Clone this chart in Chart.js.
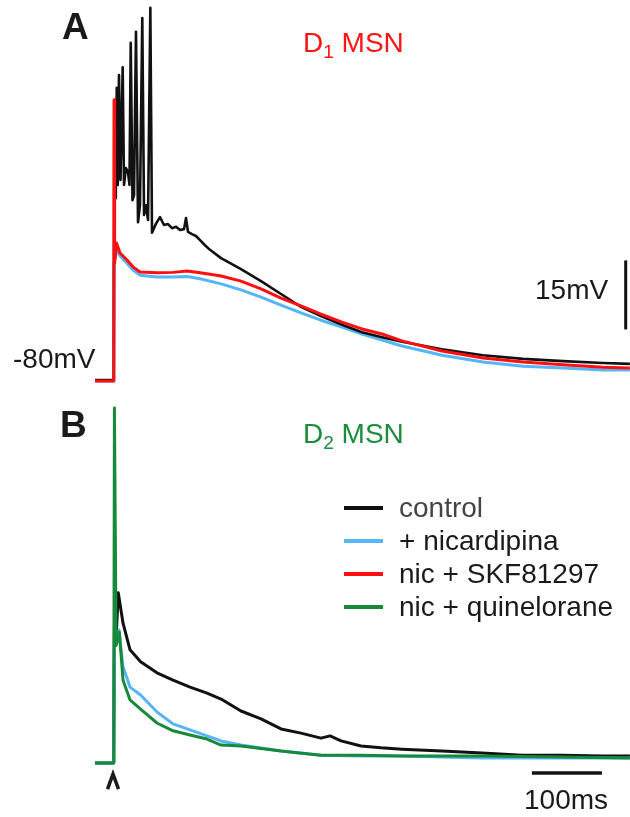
<!DOCTYPE html>
<html lang="en">
<head>
  <meta charset="UTF-8">
  <title>D1 / D2 MSN</title>
  <script src="https://cdn.jsdelivr.net/npm/chart.js"></script>
  <style>
    body {
      margin: 0;
      background: #fff;
      font-family: "Liberation Sans", Arial, sans-serif;
    }
    #wrap {
      position: relative;
      width: 630px;
      height: 817px;
    }
    canvas {
      position: absolute;
      left: 0;
    }
    .lbl {
      position: absolute;
      font-size: 28px;
      line-height: 28px;
      color: #1a1a1a;
      white-space: nowrap;
    }
    .panel {
      font-weight: bold;
      font-size: 37px;
      line-height: 37px;
    }
    .lbl sub {
      font-size: 19px;
      vertical-align: -6px;
      line-height: 0;
    }
    .leg-line {
      position: absolute;
      left: 344px;
      width: 39px;
      height: 4px;
    }
  </style>
</head>
<body>

<div id="wrap">
  <canvas id="panelA" width="630" height="390" style="top:0"></canvas>
  <canvas id="panelB" width="630" height="427" style="top:390px"></canvas>

  <div class="lbl panel" style="left:62px; top:8px;">A</div>
  <div class="lbl" style="left:303px; top:29px; color:#ff1414;">D<sub>1</sub> MSN</div>
  <div class="lbl" style="left:13px; top:345px;">-80mV</div>
  <div class="lbl" style="left:535px; top:276px;">15mV</div>

  <div class="lbl panel" style="left:60px; top:406px;">B</div>
  <div class="lbl" style="left:303px; top:420px; color:#1a8c3c;">D<sub>2</sub> MSN</div>
  <div class="lbl" style="left:524px; top:786px;">100ms</div>

  <div id="legend"></div>
</div>

<script>
  // time in ms (0 = stimulus), membrane potential in mV

  // panel A, D1 MSN
  const ctrlA = [[-27,-80],[-0.3,-80],[0.4,-19.5],[1.6,-40.5],[2.6,-38.7],[3.9,-16.5],[5.4,-37.6],[7.1,-13.7],
    [9.3,-36.5],[12.4,-12.0],[14.3,-37.6],[17.1,-33.9],[20,-34.8],[22.1,-37.6],[23.9,-6.7],[26.4,-40.9],
    [28.6,-39.8],[31.4,-4.3],[34.3,-45.7],[37.1,-42.0],[40.4,-1.3],[42.9,-44.1],[45.7,-42.0],[48.6,-45.2],
    [51.9,0.9],[54.3,-48.0],[60,-46.0],[65.7,-44.6],[71.4,-46.3],[77.1,-46.1],[82.9,-47.0],[88.6,-46.7],
    [94.3,-47.4],[100,-47.2],[102.9,-44.8],[105.7,-47.8],[111.4,-48.3],[117.1,-48.7],[122.9,-49.6],
    [130,-50.7],[137.1,-51.7],[152.9,-53.5],[181.4,-55.9],[210,-58.5],[238.6,-61.3],[267.1,-64.1],
    [295.7,-66.1],[325.7,-68.0],[354.3,-69.6],[382.9,-70.7],[411.4,-71.7],[468.6,-73.3],[527.1,-74.6],
    [584.3,-75.4],[641.4,-75.9],[698.6,-76.3],[737,-76.5]];

  const nicA = [[-27,-80.2],[-0.3,-80.2],[0.0,-54.6],[0.9,-54.6],[4.3,-51.7],[8.6,-53.0],[18.6,-54.6],
    [27.1,-56.1],[37.1,-57.2],[61.4,-57.6],[84.3,-57.6],[104.3,-57.5],[122.9,-58.0],[152.9,-59.1],
    [181.4,-60.4],[210,-62.0],[238.6,-63.7],[267.1,-65.4],[295.7,-67.0],[325.7,-68.5],[354.3,-70.0],
    [382.9,-71.3],[411.4,-72.6],[468.6,-74.6],[527.1,-76.1],[584.3,-77.0],[641.4,-77.4],[698.6,-77.8],[737,-77.8]];

  const skfA = [[-27,-80.2],[-0.3,-80.2],[0.1,-19.1],[0.9,-54.6],[3.6,-50.2],[8.6,-52.4],[18.6,-53.9],
    [27.1,-55.4],[37.1,-56.5],[61.4,-56.7],[84.3,-56.6],[104.3,-56.3],[122.9,-56.7],[137.1,-57.0],
    [152.9,-57.4],[181.4,-58.5],[210,-60.2],[238.6,-62.2],[267.1,-63.9],[295.7,-65.7],[325.7,-67.4],
    [354.3,-68.9],[382.9,-70.0],[411.4,-71.5],[468.6,-73.7],[527.1,-75.2],[584.3,-76.1],[641.4,-76.7],
    [698.6,-77.2],[737,-77.4]];

  // panel B, D2 MSN
  const ctrlB = [[-27,-80],[-0.4,-80],[0.6,-50],[2.9,-53.3],[6.1,-43.0],[12.9,-49.6],[22.9,-55.4],[38,-58.0],
    [61.4,-60.4],[84.3,-62.0],[108.6,-63.5],[132.9,-64.8],[152.9,-66.1],[181.4,-68.7],[210,-70.4],
    [238.6,-72.6],[267.1,-73.5],[295.7,-74.6],[308.6,-74.1],[324.3,-75.2],[352.9,-76.3],[381.4,-76.7],
    [411.4,-77.0],[468.6,-77.4],[525.7,-77.8],[582.9,-78.3],[640,-78.3],[697.1,-78.5],[737,-78.5]];

  const nicB = [[-27,-80],[-0.4,-80],[0.6,-53],[3.5,-53],[7.1,-51.1],[12.9,-59.1],[22.9,-63.5],[38,-65.2],
    [61.4,-68.9],[84.3,-71.5],[108.6,-72.8],[132.9,-74.1],[152.9,-75.2],[181.4,-76.1],[238.6,-77.4],
    [295.7,-78.3],[352.9,-78.5],[411.4,-78.5],[525.7,-78.9],[640,-78.9],[737,-78.9]];

  const quinB = [[-27,-80],[-0.4,-80],[0.6,-2.8],[1.3,-2.8],[3.0,-54.5],[7.6,-51.5],[12.9,-62.0],[22.9,-66.3],[38,-68.3],
    [61.4,-71.3],[84.3,-73.0],[108.6,-73.9],[132.9,-74.8],[152.9,-76.1],[181.4,-76.3],[238.6,-77.4],
    [295.7,-78.3],[352.9,-78.3],[411.4,-78.5],[525.7,-78.5],[640,-78.7],[737,-78.9]];

  // scale bars: 15 mV and 100 ms
  const barMv = [[731,-69],[731,-54]];
  const barMs = [[597,-82.2],[697,-82.2]];
  const stimTime = [0];

  const legendLabels = ['control', '+ nicardipina', 'nic + SKF81297', 'nic + quinelorane'];
  const traceColors = ['#111111', '#55b5f7', '#ff1010', '#178a3a'];

  const pts = arr => arr.map(([x, y]) => ({ x, y }));

  function trace(arr, color, width) {
    return {
      data: pts(arr),
      borderColor: color,
      borderWidth: width || 3,
      pointRadius: 0,
      tension: 0,
      borderJoinStyle: 'round',
      fill: false
    };
  }

  function opts(yMin, yMax) {
    return {
      responsive: false,
      devicePixelRatio: 1,
      animation: false,
      layout: { padding: 0 },
      plugins: { legend: { display: false }, tooltip: { enabled: false } },
      scales: {
        x: { type: 'linear', display: false, min: -162.86, max: 737.14 },
        y: { display: false, min: yMin, max: yMax }
      }
    };
  }

  // chart.js paints the first dataset on top, so the list goes top -> bottom
  new Chart(document.getElementById('panelA'), {
    type: 'line',
    data: {
      datasets: [
        trace(barMv, '#111', 3),
        trace(skfA, traceColors[2]),
        trace(ctrlA, traceColors[0], 2.6),
        trace(nicA, traceColors[1])
      ]
    },
    options: opts(-82.17, 2.61)
  });

  // small stimulus arrowhead under the trace
  const stimMark = {
    id: 'stimMark',
    afterDraw(chart) {
      const ctx = chart.ctx;
      const x = chart.scales.x.getPixelForValue(stimTime[0]) - 1;
      const y = chart.scales.y.getPixelForValue(-82.2);
      ctx.save();
      ctx.strokeStyle = '#1a1a1a';
      ctx.lineWidth = 3.5;
      ctx.lineJoin = 'miter';
      ctx.beginPath();
      ctx.moveTo(x - 5.5, y + 16);
      ctx.lineTo(x, y + 1);
      ctx.lineTo(x + 5.5, y + 16);
      ctx.stroke();
      ctx.restore();
    }
  };

  new Chart(document.getElementById('panelB'), {
    type: 'line',
    data: {
      datasets: [
        trace(barMs, '#111', 3.5),
        trace(quinB, traceColors[3]),
        trace(nicB, traceColors[1]),
        trace(ctrlB, traceColors[0])
      ]
    },
    options: opts(-91.74, 1.09),
    plugins: [stimMark]
  });

  // legend
  const legend = document.getElementById('legend');
  legendLabels.forEach((name, i) => {
    const cy = 508 + i * 33;
    const line = document.createElement('div');
    line.className = 'leg-line';
    line.style.top = (cy - 2) + 'px';
    line.style.background = traceColors[i];
    legend.appendChild(line);
    const txt = document.createElement('div');
    txt.className = 'lbl';
    txt.style.left = '399px';
    txt.style.top = (cy - 14) + 'px';
    if (i === 0) txt.style.color = '#444';
    txt.textContent = name;
    legend.appendChild(txt);
  });
</script>

</body>
</html>
